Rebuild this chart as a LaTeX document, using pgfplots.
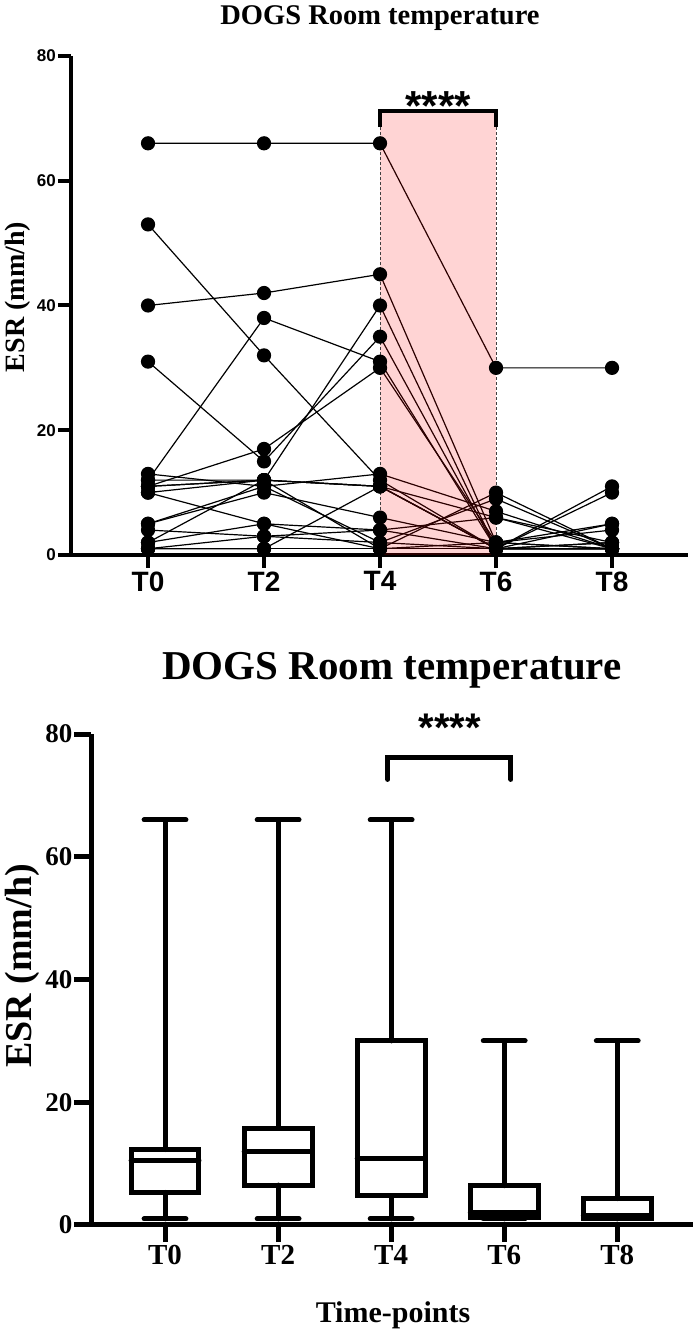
\documentclass[border=0pt]{standalone}
\usepackage{fontspec}
\setmainfont{Liberation Serif}
\newfontfamily\arial{Liberation Sans}
\usepackage{pgfplots}
\usepackage{pgfplotstable}
\pgfplotsset{compat=1.18}
\usepgfplotslibrary{statistics}

\pgfplotstableread{
t d1 d2 d3 d4 d5 d6 d7 d8 d9 d10 d11 d12 d13 d14 d15 d16 d17 d18 d19 d20
0 66 53 40 31 12 11 12 13 11 10 11 10 5 5 4 2 2 1 1 1
1 66 32 42 15 38 17 12 11 12 12 12 5 11 10 3 12 5 3 1 1
2 66 12 45 35 31 30 40 13 11 11 11 1 2 6 4 1 4 2 1 11
3 30 1 2 1 1 2 1 7 6 1 1 10 9 2 6 2 1 1 1 1
4 30 2 1 1 5 1 1 1 2 11 10 1 1 4 1 5 2 1 1 1
}\dogs

\newcommand{\fs}[1]{\fontsize{#1}{#1}\selectfont}

\begin{document}
\begin{tikzpicture}[x=1pt,y=1pt]
\useasboundingbox (0,0) rectangle (693,1332);
% ---------------- top panel ----------------
\node[anchor=base, font=\bfseries\fs{28.5}] at (380,1307) {DOGS Room temperature};
\node[rotate=90, font=\bfseries\fs{28}] at (18,1035) {ESR (mm/h)};
\begin{axis}[
  at={(71pt,777pt)}, anchor=south west,
  scale only axis, width=617pt, height=499pt,
  xmin=-0.664, xmax=4.655, ymin=0, ymax=80,
  axis x line*=bottom, axis y line*=left,
  axis line style={line width=4pt},
  xtick={0,1,2,3,4}, xticklabels={T0,T2,T4,T6,T8},
  ytick={0,20,40,60,80},
  tick align=outside, major tick length=13pt,
  every tick/.style={line width=4pt, black},
  xticklabel style={font=\arial\bfseries\fs{28}},
  yticklabel style={font=\arial\bfseries\fs{17}, inner sep=2pt},
  /pgf/number format/assume math mode=true,
  clip=false,
]
\pgfplotsinvokeforeach{1,...,20}{
  \addplot[black, line width=1.2pt, mark=*, mark size=6.5pt, mark options={fill=black}] table[x=t, y=d#1] {\dogs};
}
\fill[red, opacity=0.17] (axis cs:2,0) rectangle (axis cs:3,71.2);
\draw[line width=1pt, black!75, dash pattern=on 3pt off 2pt] (axis cs:2,0) -- (axis cs:2,71.2) (axis cs:3,0) -- (axis cs:3,71.2);
\draw[line width=3.5pt] (axis cs:2,68.6) -- (axis cs:2,71.2) -- (axis cs:3,71.2) -- (axis cs:3,68.6);
\node[anchor=base, font=\arial\bfseries\fs{42}, inner sep=0pt] at (axis cs:2.5,69.6) {****};
\end{axis}
% ---------------- bottom panel ----------------
\node[anchor=base, font=\bfseries\fs{41}] at (392,652) {DOGS Room temperature};
\node[rotate=90, font=\bfseries\fs{38}, inner sep=0pt] at (22,366) {ESR (mm/h)};
\node[font=\bfseries\fs{30}] at (393,17) {Time-points};
\begin{axis}[
  at={(91pt,107pt)}, anchor=south west,
  scale only axis, width=602pt, height=491pt,
  xmin=-0.655, xmax=4.67, ymin=0, ymax=80,
  axis x line*=bottom, axis y line*=left,
  axis line style={line width=5pt},
  xtick={0,1,2,3,4}, xticklabels={T0,T2,T4,T6,T8},
  ytick={0,20,40,60,80},
  tick align=outside, major tick length=17pt,
  every tick/.style={line width=5pt, black},
  xticklabel style={font=\bfseries\fs{29}},
  yticklabel style={font=\bfseries\fs{27}, inner sep=1.5pt},
  /pgf/number format/assume math mode=true,
  clip=false,
  boxplot/draw direction=y,
]
\addplot[black, line width=5pt, line cap=round, boxplot prepared={draw position=0, lower whisker=1, lower quartile=5.3, median=10.5, upper quartile=12.3, upper whisker=66, box extend=0.6, whisker extend=0.37}] coordinates {};
\addplot[black, line width=5pt, line cap=round, boxplot prepared={draw position=1, lower whisker=1, lower quartile=6.5, median=11.9, upper quartile=15.8, upper whisker=66, box extend=0.6, whisker extend=0.37}] coordinates {};
\addplot[black, line width=5pt, line cap=round, boxplot prepared={draw position=2, lower whisker=1, lower quartile=4.8, median=10.8, upper quartile=30.0, upper whisker=66, box extend=0.6, whisker extend=0.37}] coordinates {};
\addplot[black, line width=5pt, line cap=round, boxplot prepared={draw position=3, lower whisker=1, lower quartile=1.2, median=2.0, upper quartile=6.4, upper whisker=30, box extend=0.6, whisker extend=0.37}] coordinates {};
\addplot[black, line width=5pt, line cap=round, boxplot prepared={draw position=4, lower whisker=1, lower quartile=1.0, median=1.5, upper quartile=4.3, upper whisker=30, box extend=0.6, whisker extend=0.37}] coordinates {};
\draw[line width=5pt, line cap=round] (axis cs:1.97,72.6) -- (axis cs:1.97,76.1) -- (axis cs:3.06,76.1) -- (axis cs:3.06,72.6);
\node[anchor=base, font=\arial\bfseries\fs{40}, inner sep=0pt] at (axis cs:2.52,78.7) {****};
\end{axis}
\end{tikzpicture}
\end{document}
